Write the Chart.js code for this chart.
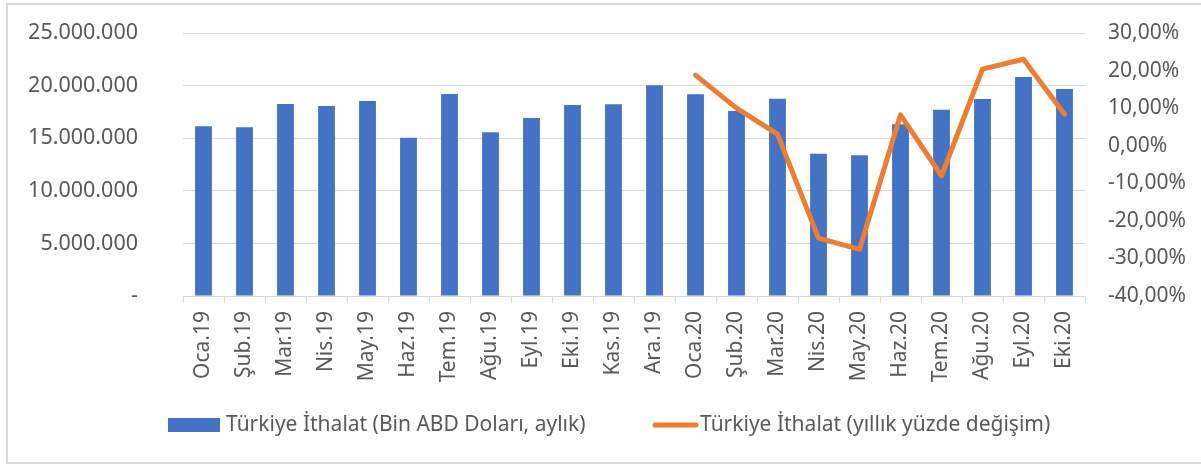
<!DOCTYPE html>
<html>
<head>
<meta charset="utf-8">
<script src="https://cdn.jsdelivr.net/npm/chart.js@4"></script>
<style>
  html, body { margin: 0; padding: 0; background: #fff; overflow: hidden; }
  #frame { position: absolute; left: 6px; top: 3px; width: 1300px; height: 457px; border: 2px solid #d9d9d9; }
  #wrap { position: absolute; left: 0; top: 0; width: 1201px; height: 464px; }
</style>
</head>
<body>
<div id="frame"></div>
<div id="wrap"><canvas id="grafik"></canvas></div>
<script>
const aylar = ["Oca.19","Şub.19","Mar.19","Nis.19","May.19","Haz.19","Tem.19","Ağu.19","Eyl.19","Eki.19","Kas.19","Ara.19",
  "Oca.20","Şub.20","Mar.20","Nis.20","May.20","Haz.20","Tem.20","Ağu.20","Eyl.20","Eki.20"];

// Bin ABD Doları, aylık
const ithalat = [16130000, 16030000, 18250000, 18060000, 18540000, 15050000, 19200000, 15560000, 16920000, 18160000, 18220000, 20030000,
  19170000, 17590000, 18760000, 13530000, 13370000, 16320000, 17710000, 18730000, 20820000, 19680000];

// yıllık yüzde değişim (2019 boş)
const degisim = [null, null, null, null, null, null, null, null, null, null, null, null,
  18.8, 10.0, 3.1, -24.6, -27.6, 8.2, -8.0, 20.4, 23.0, 8.4];

const solEtiketler = [0, 5000000, 10000000, 15000000, 20000000, 25000000];
const sagEtiketler = [-40, -30, -20, -10, 0, 10, 20, 30];

const MAVI = "#4472c4";
const TURUNCU = "#ed7d31";
const YAZI = "#595959";
const IZGARA = "#d9d9d9";
const FONT = "'Noto Sans', 'Open Sans', sans-serif";

function binlik(v){
  if (v === 0) return "-";
  return String(v).replace(/\B(?=(\d{3})+(?!\d))/g, ".");
}

function yuzde(v){
  return v.toFixed(2).replace(".", ",") + "%";
}

/* =========================
   LEGEND (Excel düzeni)
========================= */
const legendCiz = {
  id: "legendCiz",
  afterDraw(chart){
    const ctx = chart.ctx;
    const ds = chart.data.datasets;
    const y = 425;
    ctx.save();
    ctx.font = "21px " + FONT;
    ctx.textBaseline = "middle";
    ctx.textAlign = "left";

    // bar
    ctx.fillStyle = MAVI;
    ctx.fillRect(168, y - 7, 52, 14);
    ctx.fillStyle = YAZI;
    ctx.fillText(ds[0].label, 226, y);

    // line
    ctx.strokeStyle = TURUNCU;
    ctx.lineWidth = 5;
    ctx.lineCap = "round";
    ctx.beginPath();
    ctx.moveTo(655, y);
    ctx.lineTo(696, y);
    ctx.stroke();
    ctx.fillText(ds[1].label, 700, y);
    ctx.restore();
  }
};

// eksen etiket boşluğu chartArea'yı küçültmesin
function dikeyFit(genislik){
  return (s) => {
    s.width = genislik;
    s.paddingTop = 0;
    s.paddingBottom = 0;
  };
}

new Chart(document.getElementById("grafik"), {
  type: "bar",
  data: {
    labels: aylar,
    datasets: [
      {
        type: "bar",
        label: "Türkiye İthalat (Bin ABD Doları, aylık)",
        data: ithalat,
        backgroundColor: MAVI,
        categoryPercentage: 1,
        barPercentage: 0.41,
        yAxisID: "y",
        order: 2
      },
      {
        type: "line",
        label: "Türkiye İthalat (yıllık yüzde değişim)",
        data: degisim,
        borderColor: TURUNCU,
        backgroundColor: TURUNCU,
        borderWidth: 5,
        borderCapStyle: "round",
        borderJoinStyle: "round",
        pointRadius: 0,
        tension: 0,
        yAxisID: "y1",
        order: 1
      }
    ]
  },
  plugins: [legendCiz],
  options: {
    responsive: true,
    maintainAspectRatio: false,
    animation: false,
    layout: { padding: { top: 33, left: 0, right: 0, bottom: 68 } },
    plugins: {
      tooltip: { enabled: false },
      legend: { display: false }
    },
    scales: {
      x: {
        offset: true,
        grid: { display: true, drawOnChartArea: false, drawTicks: true, tickLength: 7, color: IZGARA, offset: true },
        border: { display: true, color: IZGARA },
        ticks: {
          color: YAZI,
          font: { family: FONT, size: 21 },
          minRotation: 90,
          maxRotation: 90,
          autoSkip: false,
          padding: 8
        },
        afterFit: (s) => { s.height = 100; }
      },
      y: {
        position: "left",
        min: 0,
        max: 25000000,
        afterBuildTicks: (s) => { s.ticks = solEtiketler.map(v => ({ value: v })); },
        grid: { color: IZGARA, drawTicks: false },
        border: { display: false },
        ticks: {
          color: YAZI,
          font: { family: FONT, size: 21.5 },
          padding: 45,
          callback: (v) => binlik(v)
        },
        afterFit: dikeyFit(183)
      },
      y1: {
        position: "right",
        min: -40,
        max: 30,
        afterBuildTicks: (s) => { s.ticks = sagEtiketler.map(v => ({ value: v })); },
        grid: { drawOnChartArea: false, drawTicks: false },
        border: { display: false },
        ticks: {
          color: YAZI,
          font: { family: FONT, size: 21 },
          padding: 23,
          callback: (v) => yuzde(v)
        },
        afterFit: dikeyFit(116)
      }
    }
  }
});
</script>
</body>
</html>
